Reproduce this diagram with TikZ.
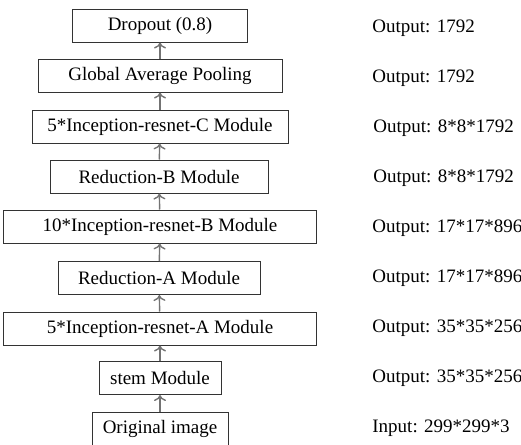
\documentclass[tikz,border=0pt]{standalone}
\usepackage{fontspec}
\setmainfont{Liberation Serif}
\usetikzlibrary{arrows.meta,positioning}

\tikzset{
  layer/.style={draw=black!80,line width=0.5pt,inner sep=0pt,minimum height=16.5pt,font=\fontsize{9.5}{11}\selectfont},
  outlabel/.style={anchor=west,inner sep=0pt,font=\fontsize{9.5}{11}\selectfont},
  flow/.style={-{To[width=6pt,length=3pt]},draw=black!55,line width=0.7pt}
}

\begin{document}
\begin{tikzpicture}[x=0.5pt,y=-0.5pt]
    \useasboundingbox (0,0) rectangle (521,445);

    \node[layer,minimum width=87.5pt] (dropout) at (160,25.5) {Dropout (0.8)};
    \node[layer,minimum width=122pt] (gap) at (160,75.5) {Global Average Pooling};
    \node[layer,minimum width=128pt] (incc) at (160,126.5) {5*Inception-resnet-C Module};
    \node[layer,minimum width=109pt] (redb) at (159,176.5) {Reduction-B Module};
    \node[layer,minimum width=156pt] (incb) at (160,226.5) {10*Inception-resnet-B Module};
    \node[layer,minimum width=101pt] (reda) at (159,278) {Reduction-A Module};
    \node[layer,minimum width=156pt] (inca) at (160,328.5) {5*Inception-resnet-A Module};
    \node[layer,minimum width=61pt] (stem) at (160,378) {stem Module};
    \node[layer,minimum width=68pt] (orig) at (160,429) {Original image};

    \draw[flow] (orig) to (stem);
    \draw[flow] (stem) to (inca);
    \draw[flow] (inca) to (reda);
    \draw[flow] (reda) to (incb);
    \draw[flow] (incb) to (redb);
    \draw[flow] (redb) to (incc);
    \draw[flow] (incc) to (gap);
    \draw[flow] (gap) to (dropout);

    % sizes on the right
    \node[outlabel] (size9) at (372,28) {Output: 1792};
    \node[outlabel] (size8) at (372,78) {Output: 1792};
    \node[outlabel] (size7) at (373,128) {Output: 8*8*1792};
    \node[outlabel] (size6) at (373,178) {Output: 8*8*1792};
    \node[outlabel] (size5) at (372,228) {Output: 17*17*896};
    \node[outlabel] (size4) at (372,278) {Output: 17*17*896};
    \node[outlabel] (size3) at (372,328) {Output: 35*35*256};
    \node[outlabel] (size2) at (372,378) {Output: 35*35*256};
    \node[outlabel] (size1) at (372,428) {Input: 299*299*3};
\end{tikzpicture}
\end{document}
